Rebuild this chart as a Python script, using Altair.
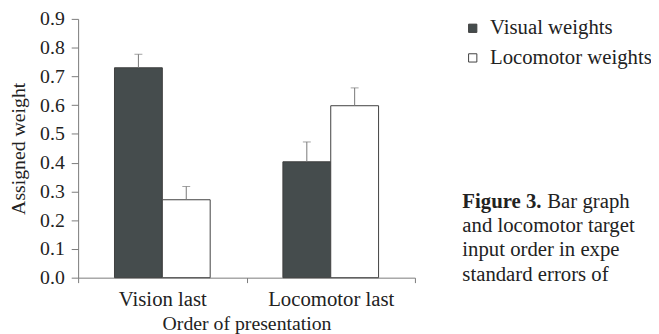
import altair as alt
import pandas as pd

orders = ["Vision last", "Locomotor last"]
series = ["Visual weights", "Locomotor weights"]
visual_means = [0.73, 0.403]
visual_err_top = [0.777, 0.472]
loco_means = [0.271, 0.598]
loco_err_top = [0.317, 0.660]
y_ticks = [0.0, 0.1, 0.2, 0.3, 0.4, 0.5, 0.6, 0.7, 0.8, 0.9]
caption_lines = ["and locomotor target", "input order in expe", "standard errors of"]
caption_head_bold = "Figure 3."
caption_head_rest = "Bar graph"

rows = []
for i, o in enumerate(orders):
    rows.append({"order": o, "series": series[0], "value": visual_means[i], "top": visual_err_top[i]})
    rows.append({"order": o, "series": series[1], "value": loco_means[i], "top": loco_err_top[i]})
df = pd.DataFrame(rows)

FONT = "Liberation Serif"
AX = "#7a7a7a"
TXT = "#222"

x = alt.X("order:N", sort=orders,
          scale=alt.Scale(paddingInner=0, paddingOuter=0),
          axis=alt.Axis(title="Order of presentation", labelAngle=0, tickBand="extent",
                        tickSize=5, labelPadding=6, titlePadding=4,
                        labelFont=FONT, labelFontSize=21, labelColor=TXT,
                        titleFont=FONT, titleFontSize=20, titleFontWeight="normal", titleColor=TXT,
                        domainColor=AX, tickColor=AX, grid=False))
xo = alt.XOffset("series:N", sort=series,
                 scale=alt.Scale(paddingOuter=0.76, paddingInner=0))
y_scale = alt.Scale(domain=[0, 0.9], nice=False)
y_axis = alt.Axis(title="Assigned weight", values=y_ticks, format=".1f", labelOverlap=False,
                  tickSize=7, labelPadding=7, titlePadding=11,
                  labelFont=FONT, labelFontSize=20, labelColor=TXT,
                  titleFont=FONT, titleFontSize=20, titleFontWeight="normal", titleColor=TXT,
                  domainColor=AX, tickColor=AX, grid=False)
y = alt.Y("value:Q", scale=y_scale, axis=y_axis)

base = alt.Chart(df)
bars = base.mark_bar(stroke="#3f3f3f", strokeWidth=1).encode(
    x=x, xOffset=xo, y=y,
    fill=alt.Fill("series:N", sort=series,
                  scale=alt.Scale(domain=series, range=["#454c4d", "#ffffff"]),
                  legend=alt.Legend(title=None, orient="none", legendX=389, legendY=-1,
                                    symbolType="square", symbolSize=70,
                                    symbolStrokeColor="#3f3f3f", symbolStrokeWidth=1,
                                    labelFont=FONT, labelFontSize=21, labelColor=TXT,
                                    labelLimit=400, rowPadding=8, labelOffset=7)),
)
err = base.mark_rule(color="#777", strokeWidth=1).encode(
    x=x, xOffset=xo, y=y, y2="top:Q")
cap = base.mark_tick(color="#777", orient="horizontal", size=8, thickness=1).encode(
    x=x, xOffset=xo, y=alt.Y("top:Q", scale=y_scale, axis=y_axis))

layers = [bars, err, cap]

cap_y = [216, 240, 265]
for line, yy in zip(caption_lines, cap_y):
    layers.append(
        alt.Chart(pd.DataFrame({"t": [line]})).mark_text(
            font=FONT, fontSize=21, align="left", baseline="alphabetic", color=TXT
        ).encode(text="t:N", x=alt.value(389), y=alt.value(yy))
    )
layers.append(
    alt.Chart(pd.DataFrame({"t": [caption_head_bold]})).mark_text(
        font=FONT, fontSize=21, fontWeight="bold", align="left", baseline="alphabetic", color=TXT
    ).encode(text="t:N", x=alt.value(389), y=alt.value(191))
)
layers.append(
    alt.Chart(pd.DataFrame({"t": [caption_head_rest]})).mark_text(
        font=FONT, fontSize=21, align="left", baseline="alphabetic", color=TXT
    ).encode(text="t:N", x=alt.value(475), y=alt.value(191))
)

chart = alt.layer(*layers).properties(
    width=341, height=262,
    autosize=alt.AutoSizeParams(type="none"),
    padding={"left": 71, "top": 9, "right": 239, "bottom": 55},
    background="white",
).configure_view(stroke=None)

chart.save("out.html", embed_options={"renderer": "svg", "actions": False})
